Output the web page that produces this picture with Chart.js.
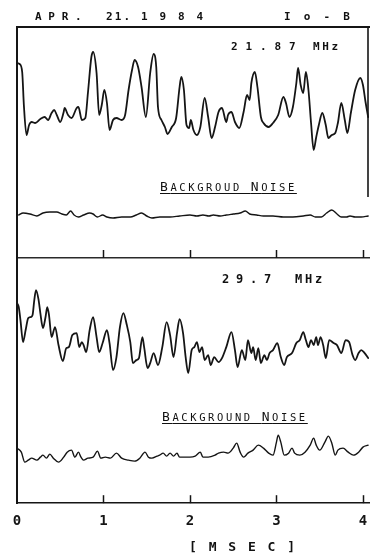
<!DOCTYPE html>
<html>
<head>
<meta charset="utf-8">
<script src="https://cdn.jsdelivr.net/npm/chart.js@4.4.1/dist/chart.umd.min.js"></script>
<style>
  body { margin: 0; background: #fff; }
  #wrap { position: relative; width: 370px; height: 555px; overflow: hidden; background: #fff; }
  canvas { position: absolute; left: 0; }
  .txt { position: absolute; font-family: "DejaVu Sans Mono", monospace; color: #111; line-height: 1; white-space: nowrap; }
  .txt span.at { position: absolute; top: 0; }
  .heavy { font-weight: bold; }
  .noise { font-size: 10.5px; letter-spacing: 2.6px; line-height: 14px; text-decoration: underline; text-decoration-thickness: 1px; text-underline-offset: 2px; }
  .noise .cap { font-size: 13px; }
</style>
</head>
<body>
<div id="wrap">
  <canvas id="panelTop" width="370" height="262" style="top:0"></canvas>
  <canvas id="panelBottom" width="370" height="297" style="top:258px"></canvas>

  <div class="txt heavy" style="left:0;top:11px;font-size:11px">
    <span class="at" style="left:35px;letter-spacing:6.7px">APR.</span>
    <span class="at" style="left:106px;letter-spacing:2.1px">21.</span>
    <span class="at" style="left:141px;letter-spacing:11.9px">1984</span>
    <span class="at" style="left:284px;letter-spacing:13.1px">Io-B</span>
  </div>

  <div class="txt heavy" style="left:0;top:41px;font-size:11px">
    <span class="at" style="left:231px;letter-spacing:7.9px">21.87</span>
    <span class="at" style="left:313px;letter-spacing:2.6px">MHz</span>
  </div>

  <div class="txt heavy" style="left:0;top:273px;font-size:12px">
    <span class="at" style="left:222px;letter-spacing:6.8px">29.7</span>
    <span class="at" style="left:295px;letter-spacing:2.8px">MHz</span>
  </div>

  <div class="txt noise" style="left:160px;top:180px"><span class="cap">B</span>ACKGROUD <span class="cap">N</span>OISE</div>
  <div class="txt noise" style="left:162px;top:410px"><span class="cap">B</span>ACKGROUND <span class="cap">N</span>OISE</div>

  <div class="txt heavy" style="left:189px;top:540px;font-size:13px;letter-spacing:11.8px">[MSEC]</div>
</div>

<script>
// time axis ticks (msec)
const MSEC_TICKS = [0, 1, 2, 3, 4];

// 21.87 MHz trace (time in msec, relative intensity)
const T_2187 = [0, 0.03, 0.06, 0.08, 0.11, 0.14, 0.17, 0.21, 0.27, 0.32, 0.36, 0.40, 0.43, 0.46, 0.50, 0.54, 0.55, 0.59, 0.63, 0.69,
  0.71, 0.75, 0.79, 0.82, 0.86, 0.88, 0.92, 0.95, 0.98, 1.01, 1.04, 1.07, 1.11, 1.15, 1.21, 1.25, 1.29, 1.33, 1.36, 1.40,
  1.44, 1.49, 1.54, 1.58, 1.61, 1.63, 1.67, 1.71, 1.74, 1.79, 1.84, 1.88, 1.90, 1.93, 1.96, 1.99, 2.01, 2.04, 2.08, 2.12,
  2.17, 2.21, 2.25, 2.29, 2.33, 2.37, 2.42, 2.44, 2.48, 2.52, 2.57, 2.62, 2.66, 2.69, 2.71, 2.75, 2.78, 2.82, 2.85, 2.91,
  2.96, 3.02, 3.08, 3.11, 3.15, 3.19, 3.23, 3.25, 3.28, 3.31, 3.34, 3.37, 3.40, 3.43, 3.46, 3.49, 3.53, 3.57, 3.60, 3.64,
  3.68, 3.71, 3.75, 3.79, 3.82, 3.86, 3.91, 3.97, 4.00, 4.03, 4.06];
const V_2187 = [19.5, 19.4, 18.6, 15.2, 12.3, 13.3, 13.6, 13.5, 13.9, 14.1, 13.8, 14.5, 14.8, 14.3, 13.6, 14.6, 15.0, 14.3, 14.0, 15.0,
  15.1, 13.8, 14.0, 16.5, 20.1, 20.6, 18.5, 14.3, 15.3, 16.8, 15.5, 12.8, 13.8, 14.0, 13.8, 14.3, 16.8, 18.8, 19.8, 19.1,
  17.1, 14.1, 18.5, 20.4, 19.1, 15.1, 13.8, 13.1, 12.4, 13.1, 14.0, 17.1, 18.1, 16.8, 13.3, 13.0, 13.8, 12.8, 12.3, 13.1,
  16.0, 14.1, 12.0, 13.1, 14.6, 15.0, 13.6, 14.3, 14.6, 13.6, 13.0, 14.6, 16.3, 15.8, 17.5, 18.6, 17.1, 14.1, 13.5, 13.1,
  13.5, 14.3, 16.1, 15.5, 14.1, 15.1, 17.5, 19.0, 17.3, 16.5, 18.6, 16.8, 13.5, 10.8, 12.1, 13.3, 14.5, 13.3, 12.0, 12.3,
  12.5, 13.5, 15.5, 13.8, 12.5, 14.5, 16.8, 18.0, 17.3, 15.6, 14.1];

// 21.87 MHz background noise
const T_NOISE_2187 = [0.02, 0.07, 0.15, 0.23, 0.30, 0.38, 0.46, 0.52, 0.57, 0.62, 0.66, 0.71, 0.77, 0.84, 0.88, 0.93, 0.99, 1.04, 1.11, 1.21,
  1.31, 1.38, 1.44, 1.50, 1.56, 1.65, 1.77, 1.88, 2.00, 2.08, 2.15, 2.22, 2.27, 2.35, 2.42, 2.50, 2.58, 2.64, 2.69, 2.77,
  2.85, 2.96, 3.08, 3.19, 3.31, 3.39, 3.45, 3.52, 3.58, 3.64, 3.70, 3.75, 3.81, 3.85, 3.91, 3.98, 4.06];
const V_NOISE_2187 = [4.3, 4.5, 4.4, 4.2, 4.5, 4.6, 4.6, 4.4, 4.3, 4.7, 4.3, 4.1, 4.3, 4.5, 4.4, 4.1, 4.3, 4.1, 4.0, 4.1,
  4.1, 4.3, 4.5, 4.2, 4.0, 4.1, 4.1, 4.2, 4.3, 4.2, 4.3, 4.2, 4.3, 4.2, 4.3, 4.4, 4.5, 4.7, 4.4, 4.3,
  4.2, 4.2, 4.1, 4.1, 4.2, 4.3, 4.1, 4.1, 4.5, 4.8, 4.4, 4.1, 4.1, 4.2, 4.1, 4.1, 4.2];

// 29.7 MHz trace
const T_297 = [0.00, 0.02, 0.04, 0.07, 0.10, 0.13, 0.16, 0.18, 0.20, 0.22, 0.25, 0.27, 0.30, 0.33, 0.35, 0.37, 0.40, 0.44, 0.48, 0.53,
  0.57, 0.60, 0.64, 0.69, 0.72, 0.75, 0.77, 0.80, 0.84, 0.88, 0.92, 0.95, 0.99, 1.04, 1.07, 1.11, 1.15, 1.19, 1.23, 1.27,
  1.31, 1.34, 1.38, 1.41, 1.45, 1.47, 1.51, 1.54, 1.58, 1.63, 1.68, 1.73, 1.77, 1.81, 1.85, 1.88, 1.92, 1.95, 1.98, 2.02,
  2.05, 2.08, 2.11, 2.14, 2.17, 2.21, 2.24, 2.28, 2.33, 2.37, 2.42, 2.48, 2.52, 2.55, 2.60, 2.64, 2.67, 2.71, 2.73, 2.76,
  2.79, 2.82, 2.86, 2.89, 2.92, 2.96, 3.01, 3.05, 3.09, 3.12, 3.18, 3.23, 3.27, 3.31, 3.34, 3.37, 3.40, 3.43, 3.46, 3.48,
  3.51, 3.54, 3.57, 3.61, 3.66, 3.70, 3.75, 3.80, 3.84, 3.88, 3.91, 3.95, 3.98, 4.02, 4.06];
const V_297 = [20.0, 19.6, 18.3, 16.1, 17.3, 18.5, 18.6, 18.8, 20.3, 21.3, 20.3, 19.0, 17.5, 18.6, 19.6, 18.8, 16.6, 17.6, 15.8, 14.2,
  15.5, 15.6, 16.8, 17.0, 15.6, 16.1, 15.8, 15.1, 17.3, 18.6, 16.6, 15.1, 16.0, 17.3, 16.0, 13.3, 14.6, 17.6, 19.0, 17.8,
  16.1, 14.0, 14.3, 14.5, 16.6, 15.6, 13.5, 14.0, 15.0, 13.8, 15.6, 18.1, 16.8, 14.6, 17.0, 18.4, 17.0, 14.6, 13.0, 15.3,
  15.6, 16.1, 15.1, 15.6, 14.3, 14.8, 13.8, 14.6, 14.1, 14.5, 15.6, 17.1, 15.3, 13.6, 15.3, 14.3, 16.3, 15.0, 15.6, 14.3,
  15.5, 14.0, 14.8, 14.3, 15.0, 15.3, 16.0, 14.6, 13.8, 14.6, 15.0, 16.0, 16.3, 17.1, 16.3, 15.6, 16.3, 15.8, 16.6, 15.8,
  16.6, 15.8, 14.5, 16.3, 16.0, 15.8, 15.0, 16.3, 16.1, 14.8, 14.3, 15.0, 15.3, 15.0, 14.5];

// 29.7 MHz background noise
const T_NOISE_297 = [0.00, 0.05, 0.09, 0.13, 0.17, 0.23, 0.27, 0.30, 0.34, 0.38, 0.42, 0.48, 0.54, 0.58, 0.63, 0.67, 0.71, 0.74, 0.77, 0.82,
  0.88, 0.93, 0.97, 1.02, 1.08, 1.15, 1.21, 1.29, 1.36, 1.42, 1.48, 1.52, 1.56, 1.62, 1.65, 1.69, 1.73, 1.77, 1.81, 1.85,
  1.88, 1.94, 2.00, 2.06, 2.12, 2.15, 2.21, 2.29, 2.33, 2.39, 2.44, 2.50, 2.54, 2.58, 2.62, 2.67, 2.73, 2.79, 2.85, 2.91,
  2.96, 3.00, 3.02, 3.05, 3.09, 3.14, 3.18, 3.21, 3.27, 3.33, 3.39, 3.43, 3.46, 3.50, 3.56, 3.60, 3.64, 3.68, 3.71, 3.77,
  3.83, 3.89, 3.95, 4.00, 4.06];
const V_NOISE_297 = [5.5, 5.1, 4.1, 4.3, 4.5, 4.3, 4.6, 4.8, 4.5, 4.9, 4.5, 4.1, 4.6, 5.1, 5.3, 4.6, 5.1, 4.6, 4.3, 4.5,
  4.6, 5.2, 4.5, 4.6, 4.5, 5.0, 4.5, 4.3, 4.2, 4.5, 5.1, 4.6, 4.5, 4.7, 4.8, 5.0, 4.7, 5.0, 4.7, 5.0,
  4.6, 4.6, 4.6, 4.7, 5.1, 4.6, 4.6, 4.8, 5.0, 5.1, 5.0, 5.5, 6.0, 5.1, 4.6, 5.0, 5.3, 5.8, 5.5, 5.0,
  4.8, 6.1, 6.8, 6.1, 4.8, 5.0, 5.5, 5.0, 4.8, 5.1, 5.8, 6.5, 5.8, 5.3, 6.1, 6.7, 6.0, 4.8, 5.3, 5.5,
  5.1, 4.8, 5.1, 5.6, 5.8];

const INK = '#151515';
const X_MAX = 4.07;

function points(times, values) {
    return times.map((t, i) => ({ x: t, y: values[i] }));
}

function trace(times, values, width) {
    return {
        data: points(times, values),
        borderColor: INK,
        borderWidth: width,
        pointRadius: 0,
        fill: false,
        cubicInterpolationMode: 'monotone',
        borderJoinStyle: 'round',
        borderCapStyle: 'round'
    };
}

// short marks standing up from the time axis, plus the partial right frame
const tickMarks = {
    id: 'tickMarks',
    afterDatasetsDraw(chart, args, opts) {
        const { ctx, chartArea, scales } = chart;
        ctx.save();
        ctx.strokeStyle = INK;
        ctx.lineWidth = 1.5;
        MSEC_TICKS.forEach(v => {
            if (v === 0) return;
            const x = Math.round(scales.x.getPixelForValue(v)) + 0.5;
            ctx.beginPath();
            ctx.moveTo(x, chartArea.bottom);
            ctx.lineTo(x, chartArea.bottom - opts.length);
            ctx.stroke();
        });
        if (opts.frameEnd) {
            ctx.lineWidth = 1.6;
            ctx.beginPath();
            ctx.moveTo(chartArea.right - 1, chartArea.top);
            ctx.lineTo(chartArea.right - 1, scales.y.getPixelForValue(opts.frameEnd));
            ctx.stroke();
        }
        ctx.restore();
    }
};

const hidden = { display: false, drawTicks: false };

// upper panel: 21.87 MHz
new Chart(document.getElementById('panelTop'), {
    type: 'line',
    data: {
        datasets: [
            trace(T_2187, V_2187, 1.8),
            trace(T_NOISE_2187, V_NOISE_2187, 1.4)
        ]
    },
    options: {
        responsive: false,
        animation: false,
        devicePixelRatio: 1,
        layout: { padding: { left: 17, top: 27, right: 1, bottom: 4 } },
        plugins: {
            legend: { display: false },
            tooltip: { enabled: false },
            tickMarks: { length: 8, frameEnd: 6.1 }
        },
        scales: {
            x: {
                type: 'linear', min: 0, max: X_MAX,
                ticks: { display: false },
                grid: hidden,
                border: { color: '#2a2a2a', width: 1.5 }
            },
            xTop: {
                type: 'linear', position: 'top', min: 0, max: X_MAX,
                ticks: { display: false },
                grid: hidden,
                border: { color: INK, width: 2 }
            },
            y: {
                min: 0, max: 23.1,
                ticks: { display: false },
                grid: hidden,
                border: { color: INK, width: 2 }
            }
        }
    },
    plugins: [tickMarks]
});

// lower panel: 29.7 MHz
new Chart(document.getElementById('panelBottom'), {
    type: 'line',
    data: {
        datasets: [
            trace(T_297, V_297, 1.8),
            trace(T_NOISE_297, V_NOISE_297, 1.4)
        ]
    },
    options: {
        responsive: false,
        animation: false,
        devicePixelRatio: 1,
        layout: { padding: { left: 17, top: 0, right: 1, bottom: 15 } },
        plugins: {
            legend: { display: false },
            tooltip: { enabled: false },
            tickMarks: { length: 8 }
        },
        scales: {
            x: {
                type: 'linear', min: 0, max: X_MAX,
                afterBuildTicks: scale => {
                    scale.ticks = MSEC_TICKS.map(v => ({ value: v }));
                },
                // labels fit inside the outer padding, keep the plot full width
                afterFit: scale => {
                    scale.paddingLeft = 0;
                    scale.paddingRight = 0;
                },
                ticks: {
                    color: INK,
                    padding: 10,
                    maxRotation: 0,
                    font: { family: 'DejaVu Sans Mono', size: 14, weight: 'bold' }
                },
                grid: hidden,
                border: { color: INK, width: 1.5 }
            },
            y: {
                min: 0, max: 24.5,
                ticks: { display: false },
                grid: hidden,
                border: { color: INK, width: 2 }
            }
        }
    },
    plugins: [tickMarks]
});
</script>
</body>
</html>
